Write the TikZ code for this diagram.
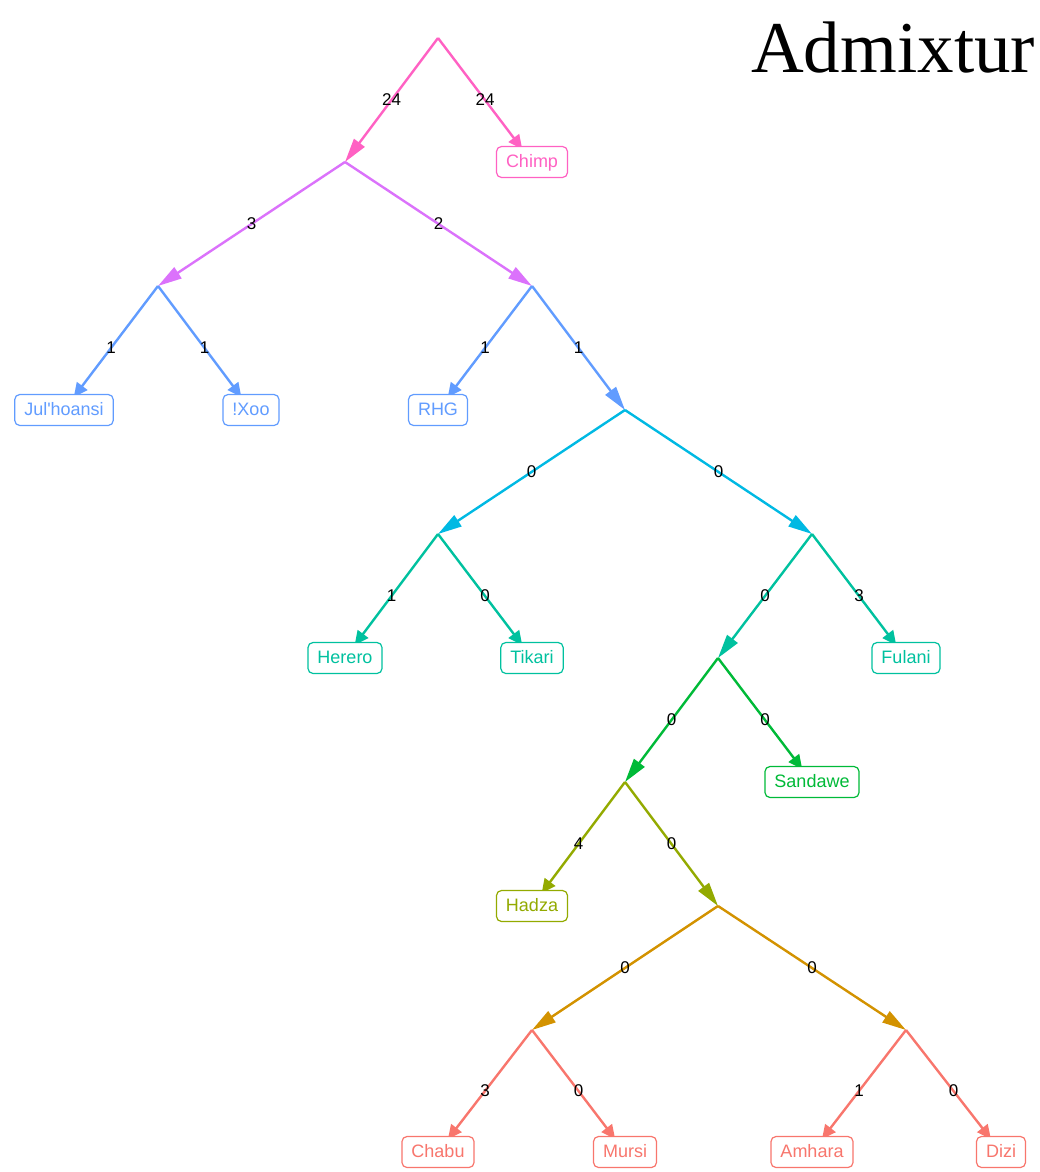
\documentclass[tikz,border=0pt]{standalone}
\usepackage{fontspec}
\setmainfont{Liberation Sans}
\newfontfamily\titlefont{Liberation Serif}
\usetikzlibrary{arrows.meta,calc}
\pgfdeclarelayer{bg}
\pgfsetlayers{bg,main}
\definecolor{cpink}{HTML}{FF61C3}
\definecolor{cpurple}{HTML}{DB72FB}
\definecolor{cblue}{HTML}{619CFF}
\definecolor{ccyan}{HTML}{00B9E3}
\definecolor{cteal}{HTML}{00C19F}
\definecolor{cgreen}{HTML}{00BA38}
\definecolor{colive}{HTML}{93AA00}
\definecolor{cgold}{HTML}{D39200}
\definecolor{csalmon}{HTML}{F8766D}
\begin{document}
\begin{tikzpicture}[x=1pt,y=-1pt,
  leaf/.style={draw=#1, text=#1, fill=white, rounded corners=5pt, line width=1.2pt,
    minimum height=31pt, inner xsep=9.5pt, text height=13pt, text depth=3pt,
    font=\fontsize{18}{20}\selectfont},
  tedge/.style={draw=#1, line width=2.4pt, -{Triangle[length=24pt,width=13pt]}},
  ledge/.style={draw=#1, line width=2.4pt, -{Triangle[length=14pt,width=13pt]}, shorten >=-4pt},
  elab/.style={font=\fontsize{17}{18}\selectfont, inner sep=0pt, text=black}
]
\useasboundingbox (0,0) rectangle (1040,1172);
\node[anchor=base west, inner sep=0pt, font=\titlefont\fontsize{73}{78}\selectfont] (title) at (751,73) {Admixtur};

\coordinate (R) at (438,38);
\coordinate (n1) at (345,162);
\coordinate (n2) at (158,286);
\coordinate (n3) at (532,286);
\coordinate (n4) at (625,410);
\coordinate (n5) at (438,534);
\coordinate (n6) at (812,534);
\coordinate (n7) at (718,658);
\coordinate (n8) at (625,782);
\coordinate (n9) at (718,906);
\coordinate (n10) at (532,1030);
\coordinate (n11) at (906,1030);

\node[leaf=cpink] (chimp) at (532,162) {Chimp};
\node[leaf=cblue] (jul) at (64,410) {Jul\textquotesingle hoansi};
\node[leaf=cblue] (xoo) at (251,410) {!Xoo};
\node[leaf=cblue] (rhg) at (438,410) {RHG};
\node[leaf=cteal] (herero) at (345,658) {Herero};
\node[leaf=cteal] (tikari) at (532,658) {Tikari};
\node[leaf=cteal] (fulani) at (906,658) {Fulani};
\node[leaf=cgreen] (sandawe) at (812,782) {Sandawe};
\node[leaf=colive] (hadza) at (532,906) {Hadza};
\node[leaf=csalmon] (chabu) at (438,1152) {Chabu};
\node[leaf=csalmon] (mursi) at (625,1152) {Mursi};
\node[leaf=csalmon] (amhara) at (812,1152) {Amhara};
\node[leaf=csalmon] (dizi) at (1001,1152) {Dizi};

\foreach \a/\b/\c/\w in {R/n1/cpink/24, n1/n2/cpurple/3, n1/n3/cpurple/2, n3/n4/cblue/1,
  n4/n5/ccyan/0, n4/n6/ccyan/0, n6/n7/cteal/0, n7/n8/cgreen/0, n8/n9/colive/0,
  n9/n10/cgold/0, n9/n11/cgold/0}{
  \begin{pgfonlayer}{bg}\draw[tedge=\c] (\a) -- (\b);\end{pgfonlayer}
  \node[elab] at ($(\a)!0.5!(\b)$) {\w};
}
\foreach \a/\b/\c/\w in {R/chimp/cpink/24, n2/jul/cblue/1, n2/xoo/cblue/1, n3/rhg/cblue/1,
  n5/herero/cteal/1, n5/tikari/cteal/0, n6/fulani/cteal/3, n7/sandawe/cgreen/0,
  n8/hadza/colive/4, n10/chabu/csalmon/3, n10/mursi/csalmon/0, n11/amhara/csalmon/1,
  n11/dizi/csalmon/0}{
  \begin{pgfonlayer}{bg}\draw[ledge=\c] (\a) -- (\b);\end{pgfonlayer}
  \node[elab] at ($(\a)!0.5!(\b)$) {\w};
}
\end{tikzpicture}
\end{document}
